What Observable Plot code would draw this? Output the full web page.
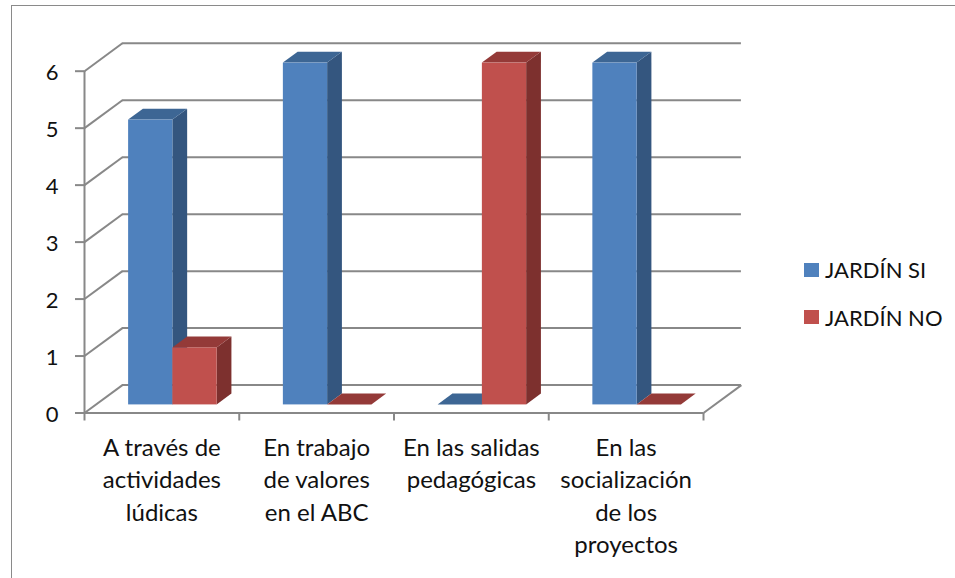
<!DOCTYPE html>
<html>
<head>
<meta charset="utf-8">
<script src="https://cdn.jsdelivr.net/npm/d3@7"></script>
<script src="https://cdn.jsdelivr.net/npm/@observablehq/plot@0.6"></script>
<style>
  html, body { margin: 0; padding: 0; background: #fff; overflow: hidden; }
  #wrap { position: relative; width: 955px; height: 578px; font-family: Lato, "Open Sans", sans-serif; }
  #chart { position: absolute; left: 0; top: 0; }
  #border { position: absolute; left: 11px; top: 5px; width: 980px; height: 620px; border: 1.5px solid #8a8a8a; box-sizing: border-box; pointer-events: none; }
  .leg { position: absolute; left: 804px; display: flex; align-items: center; font-size: 22px; color: #111; white-space: nowrap; }
  .leg .sw { width: 14.5px; height: 14px; margin-right: 6.5px; }
</style>
</head>
<body>
<div id="wrap">
  <div id="chart"></div>
  <div id="border"></div>
  <div id="legend"></div>
</div>
<script>
// ---- data ----
const categories = [
  "A través de\nactividades\nlúdicas",
  "En trabajo\nde valores\nen el ABC",
  "En las salidas\npedagógicas",
  "En las\nsocialización\nde los\nproyectos"
];
const seriesNames = ["JARDÍN SI", "JARDÍN NO"];
const jardinSi = [5, 6, 0, 6];
const jardinNo = [1, 0, 6, 0];
const yTicks = [0, 1, 2, 3, 4, 5, 6];
const xTicks = [0, 1, 2, 3, 4];

// ---- style / layout constants ----
const colors = [
  {front: "#4F81BD", side: "#34567f", top: "#3d6694"},
  {front: "#C0504D", side: "#7d302e", top: "#943a38"}
];
const gridColor = "#888888";
const dX = 0.245, dY = 0.49;   // oblique depth of the floor (in scale units)
const f0 = 0.29, f1 = 0.68;    // bar front / back depth fractions
const w = 0.286;               // bar width per series (in category units)

// ---- derived table ----
const seriesValues = [jardinSi, jardinNo];
const bars = [];
categories.forEach((c, i) => {
  seriesValues.forEach((vals, s) => {
    const xL = i + 0.5 - w + s * w;
    bars.push({id: i + "-" + s, i, s, v: vals[i], xL, xR: xL + w});
  });
});
const sidePts = bars.flatMap(b => [f0, f1].map(t => ({id: b.id, s: b.s, x: b.xR + t * dX, y1: t * dY, y2: b.v + t * dY})));
const topPts = bars.flatMap(b => [f0, f1].map(t => ({id: b.id, s: b.s, y: b.v + t * dY, x1: b.xL + t * dX, x2: b.xR + t * dX})));

const sideMarks = [0, 1].map(s => Plot.areaY(sidePts.filter(d => d.s === s), {x: "x", y1: "y1", y2: "y2", z: "id", fill: colors[s].side}));
const topMarks = [0, 1].map(s => Plot.areaX(topPts.filter(d => d.s === s), {y: "y", x1: "x1", x2: "x2", z: "id", fill: colors[s].top}));
const frontMarks = [0, 1].map(s => Plot.rect(bars.filter(d => d.s === s && d.v > 0), {
  x1: d => d.xL + f0 * dX, x2: d => d.xR + f0 * dX,
  y1: () => f0 * dY, y2: d => d.v + f0 * dY, fill: colors[s].front
}));

const chart = Plot.plot({
  width: 955,
  height: 578,
  marginLeft: 84,
  marginRight: 252,
  marginTop: 70.7,
  marginBottom: 165.5,
  x: {domain: [0, 4], axis: null},
  y: {domain: [0, 6], axis: null},
  style: {fontFamily: "Lato, 'Open Sans', sans-serif", background: "transparent", color: "#111"},
  marks: [
    // back wall gridlines
    Plot.ruleY(yTicks, {y: d => d + dY, x1: () => dX, x2: () => 4 + dX, stroke: gridColor, strokeWidth: 2}),
    // left wall diagonals
    Plot.link(yTicks, {x1: () => 0, y1: d => d, x2: () => dX, y2: d => d + dY, stroke: gridColor, strokeWidth: 2}),
    // floor right edge
    Plot.link([0], {x1: () => 4, y1: d => d, x2: () => 4 + dX, y2: d => d + dY, stroke: gridColor, strokeWidth: 2}),
    // axes lines
    Plot.ruleX([0], {x: d => d, y1: () => 0, y2: () => 6, stroke: gridColor, strokeWidth: 2}),
    Plot.ruleY([0], {y: d => d, x1: () => 0, x2: () => 4, stroke: gridColor, strokeWidth: 2}),
    // tick marks
    Plot.ruleY(yTicks, {y: d => d, x1: () => 0, x2: () => 0, insetLeft: -4.5, insetRight: -4.5, dx: -4.5, stroke: gridColor, strokeWidth: 2}),
    Plot.ruleX(xTicks, {x: d => d, y1: () => 0, y2: () => 0, insetTop: -4, insetBottom: -4, dy: 4, stroke: gridColor, strokeWidth: 2}),
    // bars
    ...sideMarks,
    ...topMarks,
    ...frontMarks,
    // y labels
    Plot.text(yTicks, {x: () => 0, y: d => d, text: d => String(d), textAnchor: "end", dx: -26, dy: 2, fontSize: 22, fill: "#111"}),
    // category labels
    Plot.text(categories, {x: (d, i) => i + 0.5, y: () => 0, text: d => d, lineAnchor: "top", lineHeight: 1.346, dy: 20, fontSize: 24, fill: "#111"})
  ]
});
document.getElementById("chart").appendChild(chart);

// legend
const legend = document.getElementById("legend");
const legTops = [262.5, 310];
seriesNames.forEach((name, s) => {
  const row = document.createElement("div");
  row.className = "leg";
  row.style.top = (legTops[s] - 3) + "px";
  row.style.height = "20px";
  const sw = document.createElement("div");
  sw.className = "sw";
  sw.style.background = colors[s].front;
  const tx = document.createElement("span");
  tx.textContent = name;
  row.appendChild(sw);
  row.appendChild(tx);
  legend.appendChild(row);
});
</script>
</body>
</html>
